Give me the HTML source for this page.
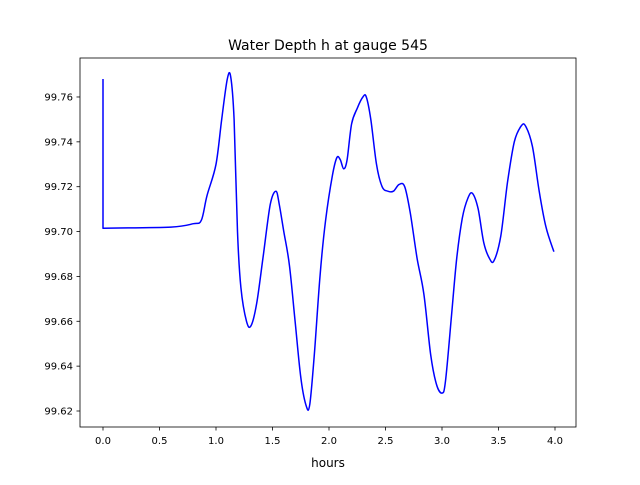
<!DOCTYPE html>
<html><head><meta charset="utf-8"><style>
body{margin:0;background:#fff;}
svg text{font-family:"DejaVu Sans","Liberation Sans",sans-serif;fill:#000;}
</style></head><body>
<svg id="chart" width="640" height="480" xmlns="http://www.w3.org/2000/svg">
<rect width="640" height="480" fill="#fff"/>
<text x="328" y="50" font-size="14" text-anchor="middle">Water Depth h at gauge 545</text>
<g id="axes"></g>
<text x="328" y="467" font-size="12" text-anchor="middle">hours</text>
</svg>
<script>
const times=[0,0,0.6,0.8,0.87,0.92,1.0,1.05,1.1,1.13,1.16,1.19,1.22,1.27,1.31,1.36,1.42,1.48,1.53,1.56,1.6,1.65,1.7,1.75,1.8,1.83,1.87,1.92,1.97,2.03,2.07,2.1,2.13,2.16,2.2,2.25,2.3,2.33,2.37,2.42,2.47,2.52,2.57,2.62,2.67,2.72,2.78,2.84,2.9,2.95,3.0,3.03,3.08,3.13,3.18,3.23,3.27,3.32,3.37,3.42,3.46,3.52,3.58,3.64,3.7,3.74,3.8,3.86,3.92,3.99];
const depth=[99.768,99.7015,99.702,99.7035,99.705,99.716,99.73,99.75,99.768,99.769,99.75,99.70,99.675,99.66,99.658,99.668,99.69,99.712,99.718,99.712,99.70,99.685,99.66,99.635,99.622,99.623,99.645,99.68,99.705,99.725,99.733,99.732,99.728,99.732,99.748,99.755,99.760,99.760,99.75,99.73,99.72,99.718,99.718,99.721,99.72,99.708,99.688,99.672,99.645,99.632,99.628,99.633,99.66,99.688,99.706,99.715,99.717,99.71,99.695,99.688,99.687,99.698,99.722,99.74,99.747,99.747,99.738,99.718,99.702,99.691];
const xTicks=[0,0.5,1,1.5,2,2.5,3,3.5,4];
const xTickLabels=["0.0","0.5","1.0","1.5","2.0","2.5","3.0","3.5","4.0"];
const yTicks=[99.62,99.64,99.66,99.68,99.70,99.72,99.74,99.76];
const yTickLabels=["99.62","99.64","99.66","99.68","99.70","99.72","99.74","99.76"];
const NS="http://www.w3.org/2000/svg";
const X=t=>103+113*t, Y=h=>411-(h-99.62)*2243;
const g=document.getElementById('axes');
function mk(tag,a){const e=document.createElementNS(NS,tag);for(const k in a)e.setAttribute(k,a[k]);g.appendChild(e);return e;}
const P=times.map((t,i)=>[X(t),Y(depth[i])]);
let d='M'+P[0][0].toFixed(1)+' '+P[0][1].toFixed(1)+' L'+P[1][0].toFixed(1)+' '+P[1][1].toFixed(1);
for(let i=1;i<P.length-1;i++){
  const p0=P[Math.max(1,i-1)],p1=P[i],p2=P[i+1],p3=P[Math.min(P.length-1,i+2)];
  const c1=[p1[0]+(p2[0]-p0[0])/6,p1[1]+(p2[1]-p0[1])/6];
  const c2=[p2[0]-(p3[0]-p1[0])/6,p2[1]-(p3[1]-p1[1])/6];
  d+=' C'+c1.map(v=>v.toFixed(1)).join(' ')+' '+c2.map(v=>v.toFixed(1)).join(' ')+' '+p2.map(v=>v.toFixed(1)).join(' ');
}
const line=mk('path',{d:d,fill:'none',stroke:'#0000ff','stroke-width':1.5,'stroke-linejoin':'round'});


const frame=mk('rect',{x:80,y:58,width:496,height:369,fill:'none',stroke:'#000','stroke-width':0.8});


xTicks.forEach((t,i)=>{
  mk('line',{x1:X(t),x2:X(t),y1:427,y2:430.5,stroke:'#000','stroke-width':0.8});
  const tx=mk('text',{x:X(t),y:444,'font-size':10,'text-anchor':'middle'});tx.textContent=xTickLabels[i];
  
  
});
yTicks.forEach((v,i)=>{
  mk('line',{x1:76.5,x2:80,y1:Y(v),y2:Y(v),stroke:'#000','stroke-width':0.8});
  const tx=mk('text',{x:73,y:Y(v)+3.5,'font-size':10,'text-anchor':'end'});tx.textContent=yTickLabels[i];
  
  
});
</script>
</body></html>
